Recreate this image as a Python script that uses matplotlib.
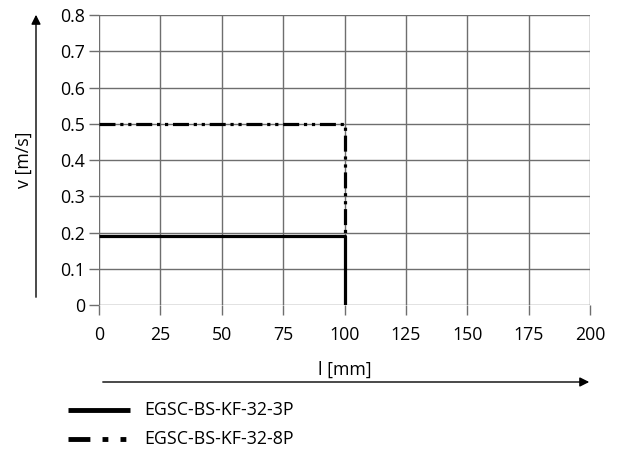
import matplotlib
matplotlib.use("Agg")
import matplotlib.pyplot as plt

plt.rcParams['font.family'] = ['Open Sans', 'DejaVu Sans']

# data
stroke_3p = [0, 100, 100]
speed_3p = [0.19, 0.19, 0.0]
stroke_8p = [0, 100, 100]
speed_8p = [0.5, 0.5, 0.19]
labels = ["EGSC-BS-KF-32-3P", "EGSC-BS-KF-32-8P"]
xticks = [0, 25, 50, 75, 100, 125, 150, 175, 200]
yticks = [0, 0.1, 0.2, 0.3, 0.4, 0.5, 0.6, 0.7, 0.8]
ytick_labels = ["0", "0.1", "0.2", "0.3", "0.4", "0.5", "0.6", "0.7", "0.8"]

fs = 12.8

fig = plt.figure(figsize=(6.24, 4.55), dpi=100)
ax = fig.add_axes([0.1587, 0.3297, 0.7868, 0.637])

ax.plot(stroke_3p, speed_3p, color="black", lw=2.3, solid_capstyle="butt", zorder=3)
ax.plot(stroke_8p, speed_8p, color="black", lw=2.3, dashes=(5, 1.5, 1, 1.5, 1, 1.5),
        zorder=3)

ax.set_xlim(0, 200)
ax.set_ylim(0, 0.8)
ax.set_xticks(xticks)
ax.set_yticks(yticks)
ax.set_yticklabels(ytick_labels)
ax.grid(True, color="#6e6e6e", lw=1)
for s in ax.spines.values():
    s.set_visible(False)
ax.tick_params(length=7, width=1, color="#6e6e6e", labelsize=fs, pad=3)
ax.tick_params(axis="x", pad=8)

# axis arrows and labels
fig.patches.append(matplotlib.patches.FancyArrowPatch(
    (36 / 624, 1 - 300 / 455), (36 / 624, 1 - 12 / 455), transform=fig.transFigure,
    arrowstyle="-|>", mutation_scale=14, color="black", lw=1))
fig.patches.append(matplotlib.patches.FancyArrowPatch(
    (100 / 624, 1 - 382 / 455), (592 / 624, 1 - 382 / 455), transform=fig.transFigure,
    arrowstyle="-|>", mutation_scale=14, color="black", lw=1))
fig.text(24 / 624, 1 - 160 / 455, "v [m/s]", rotation=90, fontsize=fs,
         ha="center", va="center")
fig.text(345 / 624, 1 - 370 / 455, "l [mm]", fontsize=fs, ha="center", va="center")

# legend
fig.add_artist(plt.Line2D([68 / 624, 130 / 624], [1 - 410 / 455] * 2,
                          color="black", lw=3.5, solid_capstyle="butt"))
fig.add_artist(plt.Line2D([68 / 624, 130 / 624], [1 - 439 / 455] * 2,
                          color="black", lw=3.5, dashes=(4.5, 2.5, 1.2, 2.5, 1.2, 10)))
fig.text(144 / 624, 1 - 410 / 455, labels[0], fontsize=fs, va="center")
fig.text(144 / 624, 1 - 439 / 455, labels[1], fontsize=fs, va="center")

fig.savefig("out.png", dpi=100)
